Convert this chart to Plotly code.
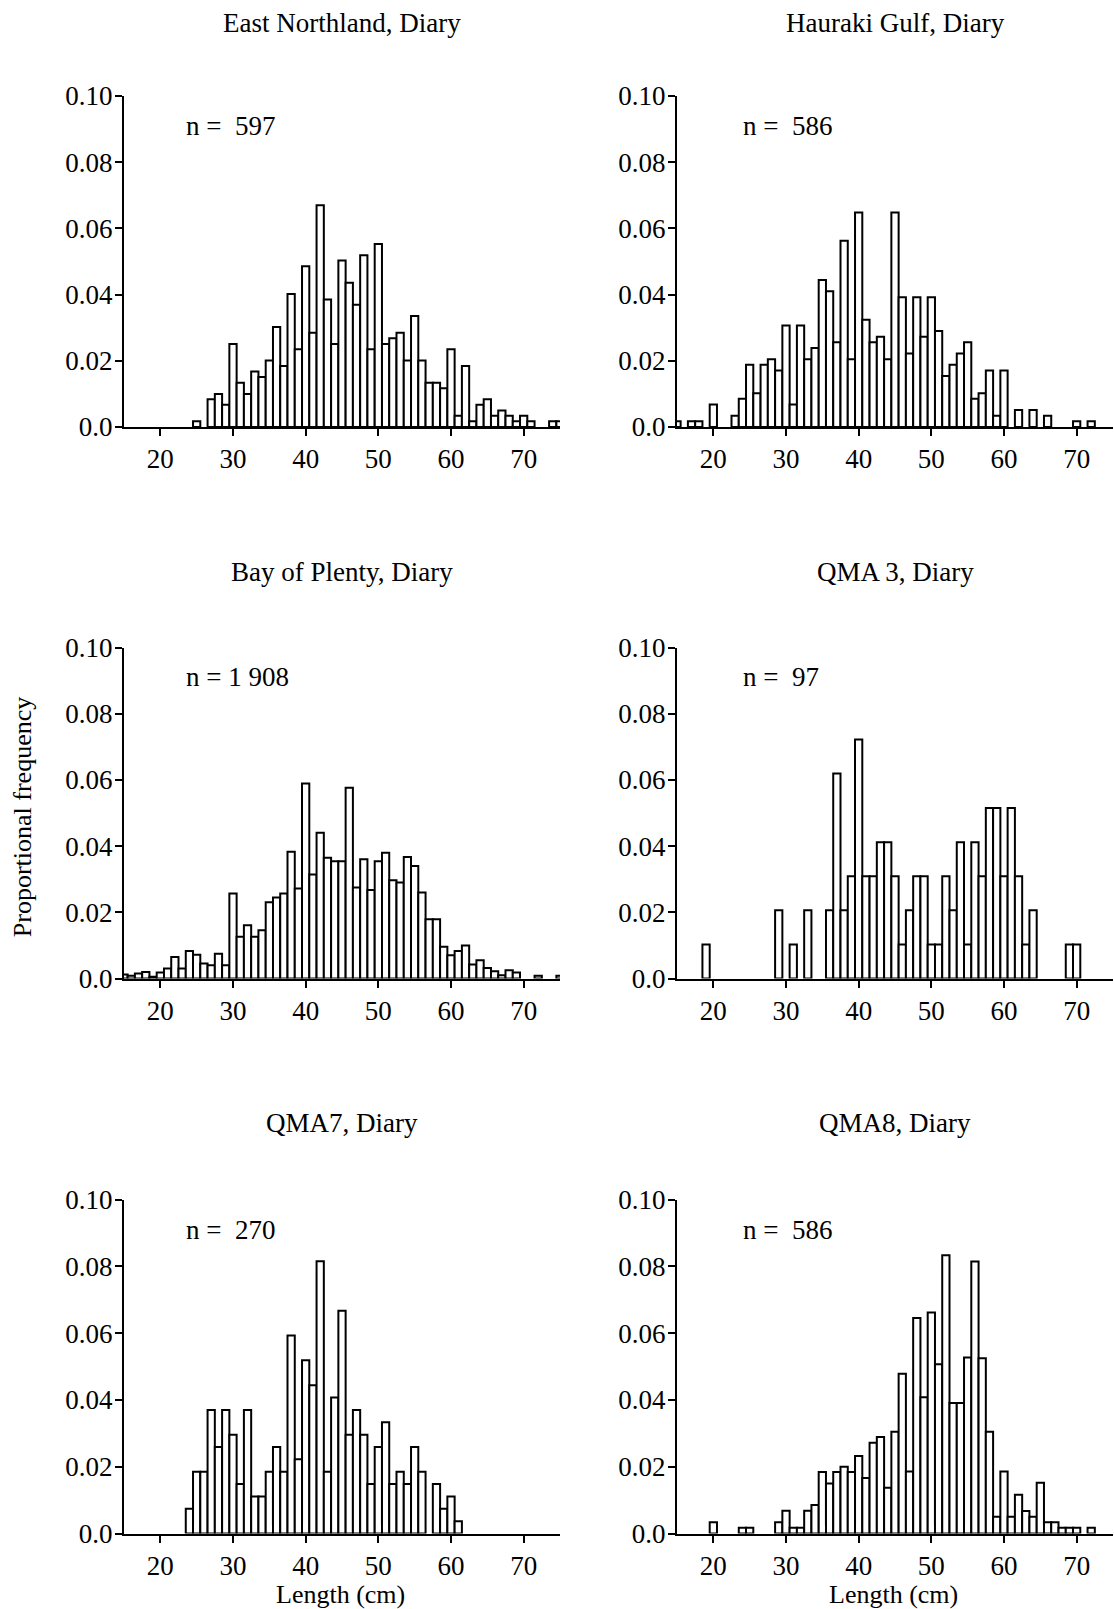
import plotly.graph_objects as go

# ---- data: proportional length frequency by 1 cm length class ----
east_northland_len = list(range(25, 76))
east_northland_prop = [
    0.0017, 0, 0.0084, 0.0100, 0.0067, 0.0251, 0.0134, 0.0100, 0.0168, 0.0151,
    0.0201, 0.0302, 0.0184, 0.0402, 0.0235, 0.0486, 0.0285, 0.0670, 0.0385, 0.0251,
    0.0503, 0.0436, 0.0369, 0.0519, 0.0235, 0.0553, 0.0251, 0.0268, 0.0285, 0.0201,
    0.0335, 0.0201, 0.0134, 0.0134, 0.0117, 0.0235, 0.0034, 0.0184, 0.0017, 0.0067,
    0.0084, 0.0034, 0.0050, 0.0034, 0.0017, 0.0034, 0.0017, 0, 0, 0.0017,
    0.0017,
]

hauraki_len = list(range(15, 73))
hauraki_prop = [
    0.0017, 0, 0.0017, 0.0017, 0, 0.0068, 0, 0, 0.0034, 0.0085,
    0.0188, 0.0102, 0.0188, 0.0205, 0.0171, 0.0307, 0.0068, 0.0307, 0.0205, 0.0239,
    0.0444, 0.0410, 0.0256, 0.0563, 0.0205, 0.0648, 0.0324, 0.0256, 0.0273, 0.0205,
    0.0648, 0.0392, 0.0222, 0.0392, 0.0273, 0.0392, 0.0290, 0.0154, 0.0188, 0.0222,
    0.0256, 0.0085, 0.0102, 0.0171, 0.0034, 0.0171, 0, 0.0051, 0, 0.0051,
    0, 0.0034, 0, 0, 0, 0.0017, 0, 0.0017,
]

bay_of_plenty_len = list(range(15, 76))
bay_of_plenty_prop = [
    0.0012, 0.0008, 0.0015, 0.0020, 0.0005, 0.0018, 0.0030, 0.0065, 0.0030, 0.0083,
    0.0072, 0.0045, 0.0040, 0.0075, 0.0040, 0.0257, 0.0126, 0.0161, 0.0126, 0.0146,
    0.0230, 0.0245, 0.0257, 0.0383, 0.0272, 0.0589, 0.0314, 0.0440, 0.0365, 0.0354,
    0.0354, 0.0576, 0.0275, 0.0360, 0.0267, 0.0354, 0.0380, 0.0297, 0.0290, 0.0367,
    0.0340, 0.0260, 0.0179, 0.0179, 0.0096, 0.0070, 0.0083, 0.0100, 0.0042, 0.0055,
    0.0032, 0.0022, 0.0010, 0.0025, 0.0018, 0, 0, 0.0008, 0, 0,
    0.0008,
]

qma3_len = list(range(19, 71))
qma3_prop = [
    0.0103, 0, 0, 0, 0, 0, 0, 0, 0, 0,
    0.0206, 0, 0.0103, 0, 0.0206, 0, 0, 0.0206, 0.0619, 0.0206,
    0.0309, 0.0722, 0.0309, 0.0309, 0.0412, 0.0412, 0.0309, 0.0103, 0.0206, 0.0309,
    0.0309, 0.0103, 0.0103, 0.0309, 0.0206, 0.0412, 0.0103, 0.0412, 0.0309, 0.0515,
    0.0515, 0.0309, 0.0515, 0.0309, 0.0103, 0.0206, 0, 0, 0, 0,
    0.0103, 0.0103,
]

qma7_len = list(range(24, 62))
qma7_prop = [
    0.0074, 0.0185, 0.0185, 0.0370, 0.0259, 0.0370, 0.0296, 0.0148, 0.0370, 0.0111,
    0.0111, 0.0185, 0.0259, 0.0185, 0.0593, 0.0222, 0.0519, 0.0444, 0.0815, 0.0185,
    0.0407, 0.0667, 0.0296, 0.0370, 0.0296, 0.0148, 0.0259, 0.0333, 0.0148, 0.0185,
    0.0148, 0.0259, 0.0185, 0, 0.0148, 0.0074, 0.0111, 0.0037,
]

qma8_len = list(range(20, 73))
qma8_prop = [
    0.0034, 0, 0, 0, 0.0017, 0.0017, 0, 0, 0, 0.0034,
    0.0068, 0.0017, 0.0017, 0.0068, 0.0085, 0.0184, 0.0150, 0.0184, 0.0200, 0.0184,
    0.0232, 0.0166, 0.0272, 0.0289, 0.0137, 0.0305, 0.0478, 0.0186, 0.0645, 0.0408,
    0.0662, 0.0507, 0.0833, 0.0391, 0.0391, 0.0527, 0.0814, 0.0525, 0.0305, 0.0050,
    0.0186, 0.0050, 0.0116, 0.0067, 0.0050, 0.0152, 0.0034, 0.0034, 0.0017, 0.0017,
    0.0017, 0, 0.0017,
]

panel_titles = [
    "East Northland, Diary", "Hauraki Gulf, Diary",
    "Bay of Plenty, Diary", "QMA 3, Diary",
    "QMA7, Diary", "QMA8, Diary",
]
sample_sizes = ["n = \u00a0597", "n = \u00a0586", "n = 1 908", "n = \u00a097", "n = \u00a0270", "n = \u00a0586"]

x_tick_vals = [20, 30, 40, 50, 60, 70]
y_tick_vals = [0, 0.02, 0.04, 0.06, 0.08, 0.10]
y_tick_text = ["0.0", "0.02", "0.04", "0.06", "0.08", "0.10"]

series = [
    (east_northland_len, east_northland_prop),
    (hauraki_len, hauraki_prop),
    (bay_of_plenty_len, bay_of_plenty_prop),
    (qma3_len, qma3_prop),
    (qma7_len, qma7_prop),
    (qma8_len, qma8_prop),
]

# ---- page geometry (pixels) ----
W, H = 1114, 1609
FONT = "Liberation Serif, Times New Roman, serif"
col_px = [(124, 560), (677, 1113)]
row_px = [(96, 427), (647.5, 978.5), (1199.5, 1533.5)]
title_y_px = [22.5, 571.5, 1123]
n_label_x = [23.3, 23.8]


def fx(p):
    return p / W


def fy(p):
    return 1 - p / H


fig = go.Figure()
layout = dict(
    width=W, height=H,
    autosize=False,
    margin=dict(l=0, r=0, t=0, b=0, pad=0, autoexpand=False),
    paper_bgcolor="white", plot_bgcolor="white",
    showlegend=False,
    font=dict(family=FONT, size=27, color="black"),
    annotations=[],
)

for i, (lengths, props) in enumerate(series):
    k = i + 1
    r, c = divmod(i, 2)
    x0, x1 = col_px[c]
    ytop, ybot = row_px[r]
    fig.add_trace(go.Bar(
        x=lengths,
        y=[v if v > 0 else None for v in props],
        width=1.0,
        marker=dict(color="white", line=dict(color="black", width=2)),
        xaxis=f"x{k}", yaxis=f"y{k}",
        hoverinfo="x+y",
    ))
    layout[f"xaxis{k}"] = dict(
        domain=[fx(x0), fx(x1)], anchor=f"y{k}",
        range=[15, 75], tickvals=x_tick_vals,
        ticks="outside", ticklen=7, tickwidth=1.5, tickcolor="black",
        showline=True, linewidth=2, linecolor="black",
        showgrid=False, zeroline=False, automargin=False,
        tickfont=dict(family=FONT, size=27, color="black"),
    )
    layout[f"yaxis{k}"] = dict(
        domain=[fy(ybot), fy(ytop)], anchor=f"x{k}",
        range=[0, 0.1], tickvals=y_tick_vals, ticktext=y_tick_text,
        ticks="outside", ticklen=7, tickwidth=1.5, tickcolor="black",
        showline=True, linewidth=2, linecolor="black",
        showgrid=False, zeroline=False, automargin=False,
        ticklabelstandoff=-3,
        tickfont=dict(family=FONT, size=27, color="black"),
    )
    # panel heading
    layout["annotations"].append(dict(
        text=panel_titles[i], xref="paper", yref="paper",
        x=fx((x0 + x1) / 2), y=fy(title_y_px[r]),
        xanchor="center", yanchor="middle", showarrow=False,
        font=dict(family=FONT, size=27, color="black"),
    ))
    # sample size
    layout["annotations"].append(dict(
        text=sample_sizes[i], xref=f"x{k}", yref=f"y{k}",
        x=n_label_x[c], y=0.091,
        xanchor="left", yanchor="middle", showarrow=False,
        font=dict(family=FONT, size=27, color="black"),
    ))

# axis titles
for c in range(2):
    x0, x1 = col_px[c]
    layout["annotations"].append(dict(
        text="Length (cm)", xref="paper", yref="paper",
        x=fx((x0 + x1) / 2 - 2), y=fy(1594),
        xanchor="center", yanchor="middle", showarrow=False,
        font=dict(family=FONT, size=26, color="black"),
    ))
layout["annotations"].append(dict(
    text="Proportional frequency", xref="paper", yref="paper",
    x=fx(22.6), y=fy(817.6), textangle=-90,
    xanchor="center", yanchor="middle", showarrow=False,
    font=dict(family=FONT, size=26, color="black"),
))

fig.update_layout(**layout)
fig.write_html("out.html")
